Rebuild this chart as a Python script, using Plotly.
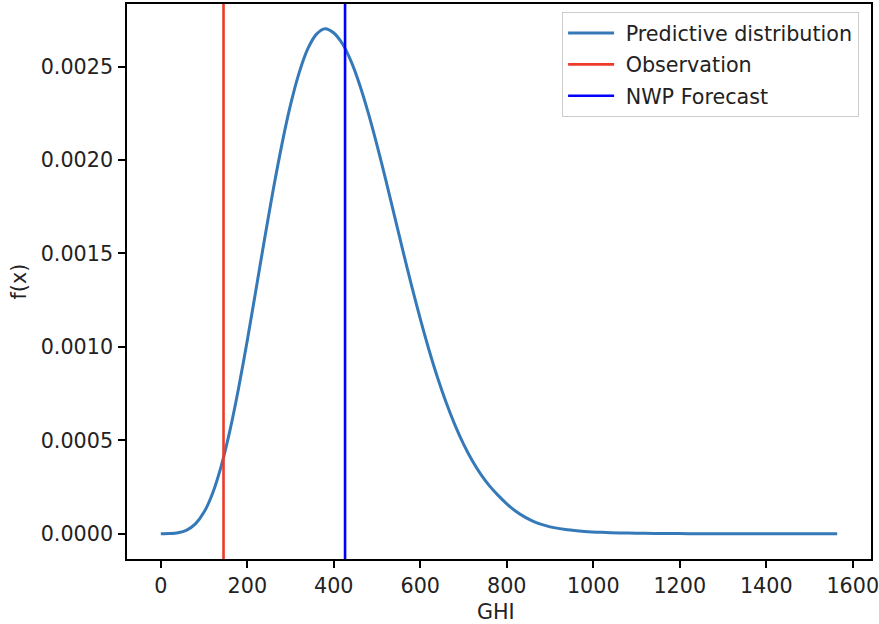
import plotly.graph_objects as go

# Predictive distribution (GHI, density)
ghi = [0, 20, 40, 60, 80, 100, 120, 140, 160, 180, 200, 220, 240, 260, 280, 300,
       320, 340, 360, 380, 400, 420, 440, 460, 480, 500, 520, 540, 560, 580, 600,
       620, 640, 660, 680, 700, 720, 740, 760, 780, 800, 820, 840, 860, 880, 900,
       940, 980, 1020, 1060, 1100, 1140, 1180, 1220, 1260, 1300, 1400, 1500, 1564]
density = [0.0000001, 0.0000011, 0.0000056, 0.0000200, 0.0000530, 0.0001160,
           0.0002186, 0.0003649, 0.0005543, 0.0007810, 0.0010360, 0.0013060,
           0.0015790, 0.0018420, 0.0020840, 0.0022960, 0.0024680, 0.0025960,
           0.0026740, 0.0027030, 0.0026800, 0.0026220, 0.0025280, 0.0024020,
           0.0022500, 0.0020790, 0.0018950, 0.0017040, 0.0015130, 0.0013270,
           0.0011500, 0.0009850, 0.0008350, 0.0007010, 0.0005830, 0.0004800,
           0.0003920, 0.0003180, 0.0002563, 0.0002053, 0.0001600, 0.0001220,
           0.0000920, 0.0000680, 0.0000500, 0.0000370, 0.0000210, 0.0000125,
           0.0000075, 0.0000045, 0.0000028, 0.0000017, 0.0000011, 0.0000007,
           0.0000005, 0.0000003, 0.0000001, 0.0, 0.0]

observation = 145
nwp_forecast = 426

x_ticks = [0, 200, 400, 600, 800, 1000, 1200, 1400, 1600]
y_ticks = [0.0, 0.0005, 0.0010, 0.0015, 0.0020, 0.0025]
x_title = "GHI"
y_title = "f(x)"

y_lo, y_hi = -0.000135, 0.002835

FONT = "DejaVu Sans"
FS = 20.7
TXT = "#222222"
PAD = "\u00a0"

fig = go.Figure()
fig.add_trace(go.Scatter(
    x=ghi, y=density, mode="lines", name=PAD + "Predictive distribution",
    line=dict(color="#3579b8", width=3, shape="spline", smoothing=0.8),
    legendgroup="a"))
fig.add_trace(go.Scatter(
    x=[observation, observation], y=[y_lo, y_hi], mode="lines", name=PAD + "Observation",
    line=dict(color="#ee3a2a", width=2.6), legendgroup="b"))
fig.add_trace(go.Scatter(
    x=[nwp_forecast, nwp_forecast], y=[y_lo, y_hi], mode="lines", name=PAD + "NWP Forecast",
    line=dict(color="#0000ff", width=2.6), legendgroup="c"))

fig.update_layout(
    width=879, height=624,
    margin=dict(l=127, r=8, t=4, b=65),
    paper_bgcolor="white", plot_bgcolor="white",
    font=dict(family=FONT, size=FS, color=TXT),
    showlegend=True,
    legend=dict(
        x=0.984, y=0.9856, xanchor="right", yanchor="top",
        bgcolor="rgba(255,255,255,0.8)", bordercolor="#cccccc", borderwidth=1,
        font=dict(family=FONT, size=FS, color=TXT),
        traceorder="grouped", tracegroupgap=1.5, itemwidth=46,
    ),
    annotations=[
        dict(text=x_title, xref="paper", yref="paper", x=0.4966, y=-0.0955,
             xanchor="center", yanchor="middle", showarrow=False,
             font=dict(family=FONT, size=FS, color=TXT)),
        dict(text=y_title, xref="paper", yref="paper", x=-0.1452, y=0.5,
             xanchor="center", yanchor="middle", showarrow=False, textangle=-90,
             font=dict(family=FONT, size=FS, color=TXT)),
    ],
)

fig.update_xaxes(
    range=[-78.2, 1642.2], tickvals=x_ticks, ticktext=[str(v) for v in x_ticks],
    showgrid=False, zeroline=False, automargin=False,
    showline=True, mirror=True, linecolor="black", linewidth=1.6,
    ticks="outside", ticklen=7, tickwidth=1.6, tickcolor="black",
    ticklabelstandoff=0, ticklabeloverflow="allow",
    tickfont=dict(family=FONT, size=FS, color=TXT),
)
fig.update_yaxes(
    range=[y_lo, y_hi], tickvals=y_ticks, ticktext=[f"{v:.4f}" for v in y_ticks],
    showgrid=False, zeroline=False, automargin=False,
    showline=True, mirror=True, linecolor="black", linewidth=1.6,
    ticks="outside", ticklen=7, tickwidth=1.6, tickcolor="black",
    ticklabelstandoff=1, ticklabeloverflow="allow",
    tickfont=dict(family=FONT, size=FS, color=TXT),
)

fig.write_html("out.html")
